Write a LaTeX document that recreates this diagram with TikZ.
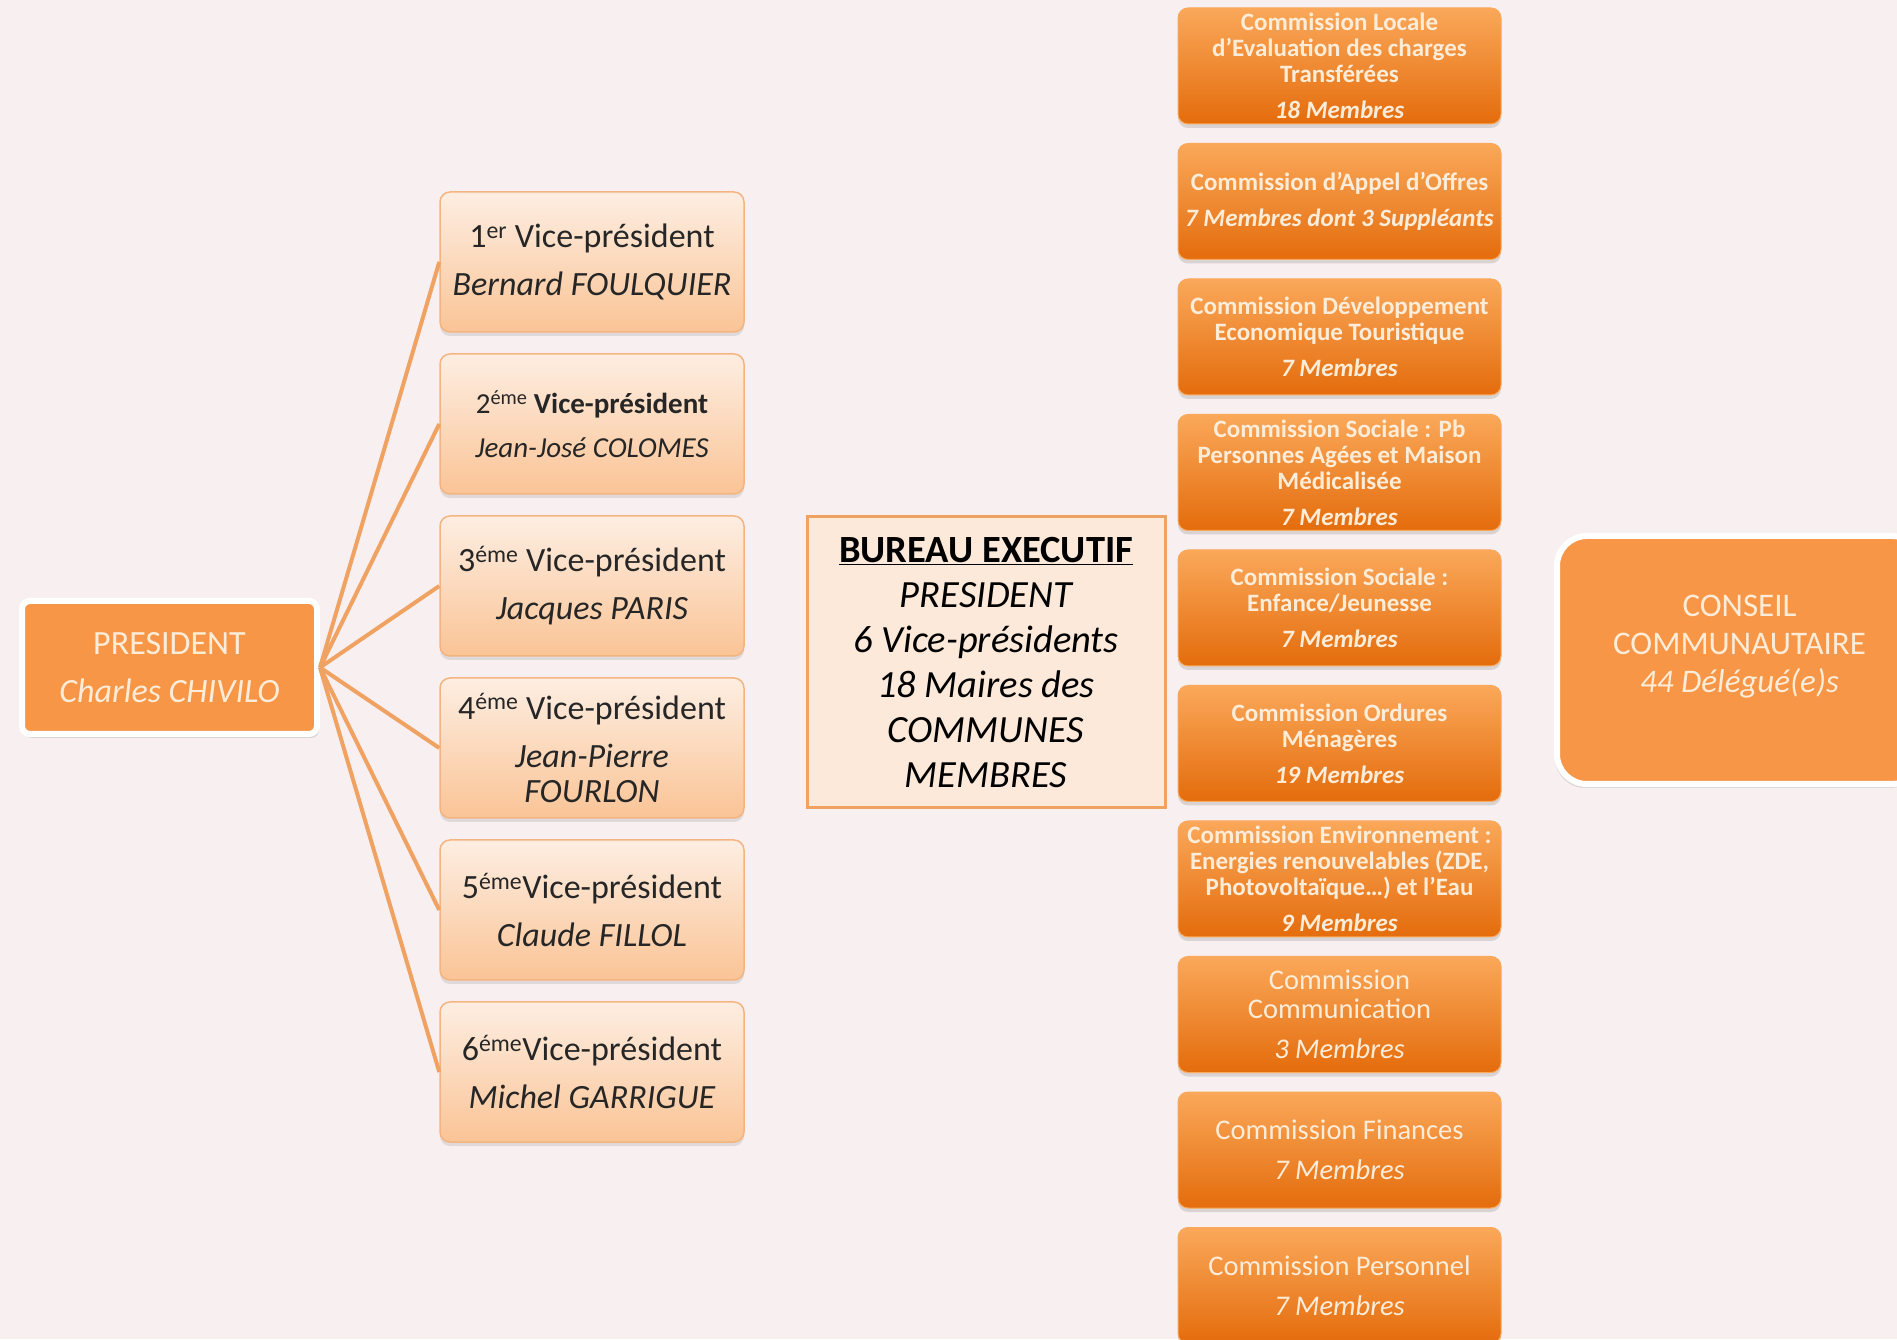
\documentclass[tikz,border=0pt]{standalone}
\usepackage{fontspec}
\setmainfont{Carlito}
\usepackage{xcolor}
\usepackage{tikz}
\usetikzlibrary{positioning, shadows}

\definecolor{bgpink}{RGB}{248,240,240}
\definecolor{orangemain}{RGB}{247,150,70}
\definecolor{orangedark}{RGB}{228,108,12}
\definecolor{orangelight}{RGB}{250,168,90}
\definecolor{peachtop}{RGB}{253,238,226}
\definecolor{peachbot}{RGB}{250,196,150}
\definecolor{peachedge}{RGB}{244,180,128}
\definecolor{creamtext}{RGB}{253,236,216}
\definecolor{linkorange}{RGB}{240,162,98}
\definecolor{bureaufill}{RGB}{252,233,218}

\begin{document}
\begin{tikzpicture}[
        x=1pt, y=1pt,
        president/.style={rectangle, draw=white, line width=6pt, rounded corners=8pt, fill=orangemain, minimum width=295pt, minimum height=133pt, align=center, text=creamtext, font=\fontsize{34}{35}\selectfont, drop shadow={opacity=0.25, shadow xshift=2pt, shadow yshift=-4pt}},
        vp/.style={rectangle, draw=peachedge, line width=1.5pt, rounded corners=10pt, top color=peachtop, bottom color=peachbot, minimum width=304pt, minimum height=140pt, align=center, text=black!85, font=\fontsize{34}{35}\selectfont, drop shadow={opacity=0.2, shadow xshift=0pt, shadow yshift=-4pt}},
        bureau/.style={rectangle, draw=linkorange, line width=3pt, fill=bureaufill, minimum width=358pt, minimum height=291pt, align=center, text=black, font=\itshape\fontsize{38.5}{45}\selectfont},
        commission/.style={rectangle, draw=orangelight, line width=1pt, rounded corners=10pt, top color=orangelight, bottom color=orangedark, minimum width=323pt, minimum height=116pt, inner sep=1pt, align=center, text=creamtext, font=\bfseries\fontsize{25}{26}\selectfont, drop shadow={opacity=0.25, shadow xshift=0pt, shadow yshift=-4pt}},
        commbig/.style={commission, font=\fontsize{28.5}{29}\selectfont},
        conseil/.style={rectangle, draw=white, line width=6pt, rounded corners=30pt, fill=orangemain, minimum width=365pt, minimum height=248pt, align=center, text=creamtext, text depth=32pt, font=\fontsize{33}{38}\selectfont, drop shadow={opacity=0.2, shadow xshift=-2pt, shadow yshift=-4pt}},
        link/.style={draw=linkorange, line width=4pt}
    ]

        % --- Background ---
        \fill[bgpink] (0,0) rectangle (1897,1339);
        \useasboundingbox (0,0) rectangle (1897,1339);

        % --- Left: President ---
        \node[president] (PRES) at (169.5, 671.5) {PRESIDENT\\[13pt]\textit{Charles CHIVILO}};

        % --- Vice-presidents ---
        \node[vp] (VP1) at (592, 1077) {1\textsuperscript{er} Vice-président\\[13pt]\textit{Bernard FOULQUIER}};
        \node[vp, font=\fontsize{29}{30}\selectfont] (VP2) [below=20.5pt of VP1] {2\textsuperscript{éme} \textbf{Vice-président}\\[14pt]\textit{Jean-José COLOMES}};
        \node[vp] (VP3) [below=20.5pt of VP2] {3\textsuperscript{éme} Vice-président\\[13pt]\textit{Jacques PARIS}};
        \node[vp] (VP4) [below=20.5pt of VP3] {4\textsuperscript{éme} Vice-président\\[13pt]\textit{Jean-Pierre}\\\textit{FOURLON}};
        \node[vp] (VP5) [below=20.5pt of VP4] {5\textsuperscript{éme}Vice-président\\[13pt]\textit{Claude FILLOL}};
        \node[vp] (VP6) [below=20.5pt of VP5] {6\textsuperscript{éme}Vice-président\\[13pt]\textit{Michel GARRIGUE}};

        % President to vice-presidents
        \draw[link] (PRES.east) -- (VP1.west);
        \draw[link] (PRES.east) -- (VP2.west);
        \draw[link] (PRES.east) -- (VP3.west);
        \draw[link] (PRES.east) -- (VP4.west);
        \draw[link] (PRES.east) -- (VP5.west);
        \draw[link] (PRES.east) -- (VP6.west);

        % --- Middle: Bureau ---
        \node[bureau] (BUREAU) at (986, 676.5) {\upshape\bfseries\underline{BUREAU EXECUTIF}\\PRESIDENT\\6 Vice-présidents\\18 Maires des\\COMMUNES\\MEMBRES};

        % --- Commissions ---
        \node[commission] (CLECT) at (1339.5, 1273) {Commission Locale\\d’Evaluation des charges\\Transférées\\[10pt]\textit{18 Membres}};
        \node[commission] (CAO) [below=18.5pt of CLECT] {Commission d’Appel d’Offres\\[10pt]\textit{7 Membres dont 3 Suppléants}};
        \node[commission] (CDEV) [below=18.5pt of CAO] {Commission Développement\\Economique Touristique\\[10pt]\textit{7 Membres}};
        \node[commission] (CSOC) [below=18.5pt of CDEV] {Commission Sociale : Pb\\Personnes Agées et Maison\\Médicalisée\\[10pt]\textit{7 Membres}};
        \node[commission] (CENF) [below=18.5pt of CSOC] {Commission Sociale :\\Enfance/Jeunesse\\[10pt]\textit{7 Membres}};
        \node[commission] (COM) [below=18.5pt of CENF] {Commission Ordures\\Ménagères\\[10pt]\textit{19 Membres}};
        \node[commission] (CENV) [below=18.5pt of COM] {Commission Environnement :\\Energies renouvelables (ZDE,\\Photovoltaïque…) et l’Eau\\[10pt]\textit{9 Membres}};
        \node[commbig] (CCOM) [below=18.5pt of CENV] {Commission\\Communication\\[11pt]\textit{3 Membres}};
        \node[commbig] (CFIN) [below=18.5pt of CCOM] {Commission Finances\\[11pt]\textit{7 Membres}};
        \node[commbig] (CPER) [below=18.5pt of CFIN] {Commission Personnel\\[11pt]\textit{7 Membres}};

        % --- Right: Conseil ---
        \node[conseil] (CC) at (1739.5, 679) {CONSEIL\\COMMUNAUTAIRE\\\textit{44 Délégué(e)s}};

    \end{tikzpicture}
\end{document}
